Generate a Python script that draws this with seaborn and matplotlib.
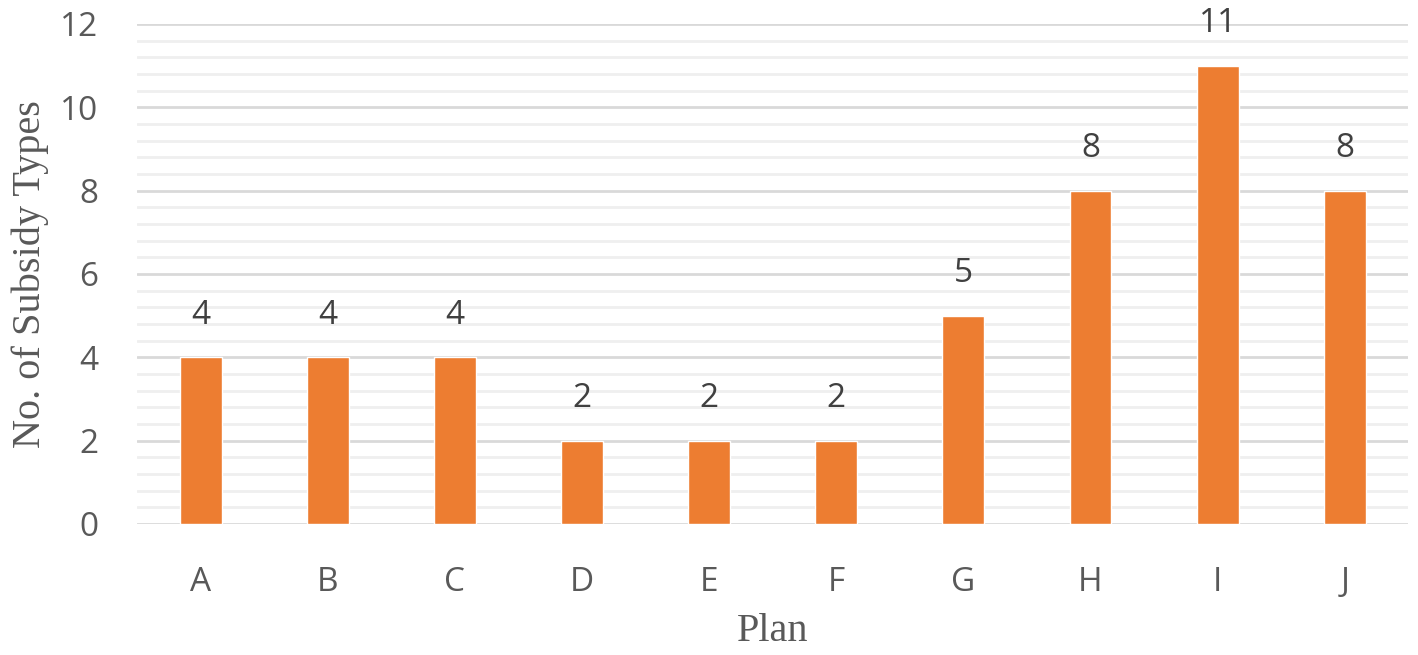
import matplotlib
matplotlib.use("Agg")
import matplotlib.pyplot as plt
import seaborn as sns
import pandas as pd
from matplotlib.ticker import MultipleLocator

plans = ["A", "B", "C", "D", "E", "F", "G", "H", "I", "J"]
subsidy_types = [4, 4, 4, 2, 2, 2, 5, 8, 11, 8]

df = pd.DataFrame({"Plan": plans, "Types": subsidy_types})

sns.set_theme(style="white")
plt.rcParams["font.family"] = ["Open Sans", "DejaVu Sans"]

text_color = "#595959"
bar_color = "#ED7D31"

fig = plt.figure(figsize=(14.18, 6.55), dpi=100)
ax = fig.add_axes([0.0966, 0.2, 0.8966, 0.7634])

sns.barplot(data=df, x="Plan", y="Types", color=bar_color, width=0.33,
            saturation=1, ax=ax, zorder=3)

ax.set_ylim(0, 12)
ax.yaxis.set_major_locator(MultipleLocator(2))
ax.yaxis.set_minor_locator(MultipleLocator(0.4))
ax.grid(which="major", axis="y", color="#D9D9D9", linewidth=2, zorder=0)
ax.grid(which="minor", axis="y", color="#EFEFEF", linewidth=2, zorder=0)
ax.set_axisbelow(True)
for s in ax.spines.values():
    s.set_visible(False)

ax.tick_params(axis="both", which="both", length=0, labelsize=24,
               labelcolor=text_color)
ax.tick_params(axis="y", pad=28)
ax.tick_params(axis="x", pad=30)

for i, v in enumerate(subsidy_types):
    ax.text(i, v + 1.0, str(v), ha="center", va="center", fontsize=24,
            color="#404040")

ax.set_xlabel("Plan", fontsize=29, color=text_color,
              family=["Liberation Serif"], labelpad=10)
ax.set_ylabel("No. of Subsidy Types", fontsize=29, color=text_color,
              family=["Liberation Serif"], labelpad=8)

fig.savefig("out.png", dpi=100)
